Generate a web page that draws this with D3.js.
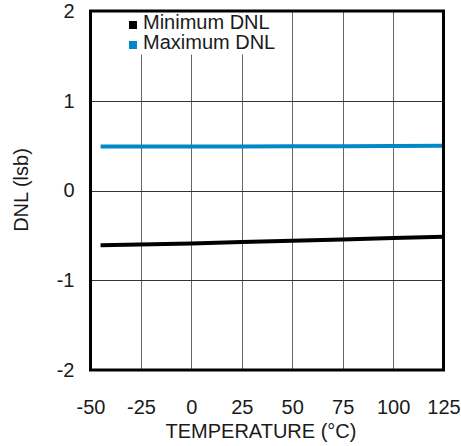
<!DOCTYPE html>
<html>
<head>
<meta charset="utf-8">
<script src="https://cdn.jsdelivr.net/npm/d3@7"></script>
<style>
  body { margin: 0; background: #fff; }
  text { font-family: "Liberation Sans", Arial, sans-serif; fill: #1a1a1a; }
</style>
</head>
<body>
<div id="chart"></div>
<script>
// data
var temps = [-45, 0, 25, 50, 75, 100, 125];
var minDNL = [-0.61, -0.59, -0.575, -0.56, -0.545, -0.53, -0.515];
var maxDNL = [0.49, 0.49, 0.49, 0.492, 0.494, 0.496, 0.498];
var xTicks = [-50, -25, 0, 25, 50, 75, 100, 125];
var yTicks = [-2, -1, 0, 1, 2];
var seriesNames = ["Minimum DNL", "Maximum DNL"];
var seriesColors = ["#000000", "#0088c8"];

var svgWidth = 461;
var svgHeight = 446;

var svg = d3.select("#chart").append("svg")
  .attr("width", svgWidth)
  .attr("height", svgHeight);

var xScale = d3.scaleLinear().domain([-50, 125]).range([90.5, 443.5]);
var yScale = d3.scaleLinear().domain([-2, 2]).range([370, 11]);

// grid
svg.append("g").selectAll("line")
  .data(xTicks.slice(1, -1))
  .enter().append("line")
  .attr("x1", d => Math.round(xScale(d)) + 0.5)
  .attr("x2", d => Math.round(xScale(d)) + 0.5)
  .attr("y1", yScale(2))
  .attr("y2", yScale(-2))
  .attr("stroke", "#666")
  .attr("stroke-width", 1);

svg.append("g").selectAll("line")
  .data(yTicks.slice(1, -1))
  .enter().append("line")
  .attr("x1", xScale(-50))
  .attr("x2", xScale(125))
  .attr("y1", d => Math.round(yScale(d)) + 0.5)
  .attr("y2", d => Math.round(yScale(d)) + 0.5)
  .attr("stroke", "#333")
  .attr("stroke-width", 1);

// series
var line = d3.line()
  .x(d => xScale(d[0]))
  .y(d => yScale(d[1]));

[minDNL, maxDNL].forEach(function (vals, i) {
  svg.append("path")
    .datum(temps.map((t, j) => [t, vals[j]]))
    .attr("d", line)
    .attr("fill", "none")
    .attr("stroke", seriesColors[i])
    .attr("stroke-width", 4);
});

// legend with white background
svg.append("rect")
  .attr("x", 92).attr("y", 12.5)
  .attr("width", 188).attr("height", 42)
  .attr("fill", "#fff");

var legend = svg.append("g").selectAll("g")
  .data(seriesNames)
  .enter().append("g")
  .attr("transform", (d, i) => `translate(129, ${21 + i * 20})`);

legend.append("rect")
  .attr("width", 8).attr("height", 8)
  .attr("fill", (d, i) => seriesColors[i]);

legend.append("text")
  .attr("x", 14).attr("y", 8)
  .attr("font-size", 20)
  .text(d => d);

// frame
svg.append("rect")
  .attr("x", xScale(-50)).attr("y", yScale(2))
  .attr("width", xScale(125) - xScale(-50))
  .attr("height", yScale(-2) - yScale(2))
  .attr("fill", "none")
  .attr("stroke", "#000")
  .attr("stroke-width", 3);

// axes (labels only)
var bottomAxis = d3.axisBottom(xScale).tickValues(xTicks).tickFormat(d => String(d))
  .tickSize(0).tickPadding(30);
var leftAxis = d3.axisLeft(yScale).tickValues(yTicks).tickFormat(d => String(d))
  .tickSize(0).tickPadding(16);

var xg = svg.append("g").attr("transform", `translate(0, ${yScale(-2)})`).call(bottomAxis);
var yg = svg.append("g").attr("transform", `translate(${xScale(-50)}, 0)`).call(leftAxis);

[xg, yg].forEach(function (g) {
  g.select(".domain").remove();
  g.selectAll("text")
    .attr("font-size", 20)
    .attr("font-family", "Liberation Sans, Arial, sans-serif")
    .attr("fill", "#1a1a1a");
});

// axis titles
svg.append("text")
  .attr("x", 261).attr("y", 438)
  .attr("text-anchor", "middle")
  .attr("font-size", 20)
  .text("TEMPERATURE (°C)");

svg.append("text")
  .attr("transform", "translate(28, 190) rotate(-90)")
  .attr("text-anchor", "middle")
  .attr("font-size", 20)
  .text("DNL (lsb)");
</script>
</body>
</html>
